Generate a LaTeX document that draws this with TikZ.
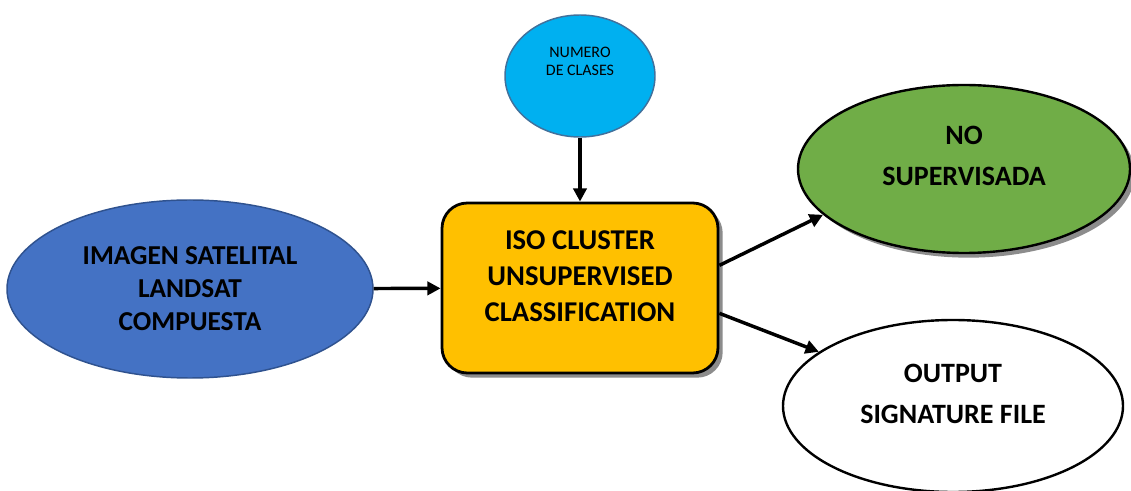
\documentclass[tikz,border=0pt]{standalone}
\usepackage{fontspec}
\setmainfont{Carlito}
\usetikzlibrary{shapes.geometric, shadows, arrows.meta}
\definecolor{imgblue}{HTML}{4472C4}
\definecolor{imgedge}{HTML}{2F528F}
\definecolor{numblue}{HTML}{00B0F0}
\definecolor{numedge}{HTML}{41719C}
\definecolor{clsgold}{HTML}{FFC000}
\definecolor{nosgreen}{HTML}{70AD47}
\begin{document}
\begin{tikzpicture}[x=0.75pt, y=-0.75pt,
    oval/.style={ellipse, inner sep=0pt},
    bigtext/.style={font=\bfseries\fontsize{21}{31}\selectfont, align=center},
    flow/.style={line width=2.6pt, -{Triangle[length=10pt, width=10pt]}},
    softshadow/.style={drop shadow={shadow xshift=3.5pt, shadow yshift=-3.5pt,
        fill=black!45, opacity=1}}]
  \useasboundingbox (0, 0) rectangle (1131, 491);
  % inputs
  \node[oval, fill=numblue, draw=numedge, line width=1.1pt,
    minimum width=112.5pt, minimum height=91.5pt,
    label={[yshift=11pt, font=\fontsize{12}{13.5}\selectfont, align=center]center:NUMERO\\DE CLASES}]
    (num) at (580, 76) {};
  \node[oval, fill=imgblue, draw=imgedge, line width=1.1pt,
    minimum width=274.5pt, minimum height=133.5pt,
    font=\bfseries\fontsize{20.5}{24.75}\selectfont, align=center]
    (img) at (190, 289) {IMAGEN SATELITAL\\LANDSAT\\COMPUESTA};
  % tool
  \node[rectangle, rounded corners=19pt, fill=clsgold, draw=black, line width=2.1pt,
    minimum width=207pt, minimum height=127.5pt, softshadow,
    label={[yshift=9pt, font=\bfseries\fontsize{21.5}{27}\selectfont, align=center]center:ISO CLUSTER\\UNSUPERVISED\\CLASSIFICATION}]
    (cls) at (580, 288) {};
  % outputs
  \node[oval, fill=nosgreen, draw=black, line width=1.8pt,
    minimum width=249pt, minimum height=126pt, softshadow,
    label={[yshift=10pt, bigtext]center:NO\\SUPERVISADA}]
    (nos) at (964, 169) {};
  \node[oval, fill=white, draw=black, line width=1.8pt,
    minimum width=255pt, minimum height=129pt,
    label={[yshift=9pt, bigtext]center:OUTPUT\\SIGNATURE FILE}]
    (sig) at (953, 406) {};
  % connectors
  \draw[flow] (num) -- (cls);
  \draw[flow] (img) -- (cls);
  \draw[flow] ([yshift=17pt]cls.east) -- (nos.198);
  \draw[flow] ([yshift=-19pt]cls.east) -- (sig.158);
\end{tikzpicture}
\end{document}
